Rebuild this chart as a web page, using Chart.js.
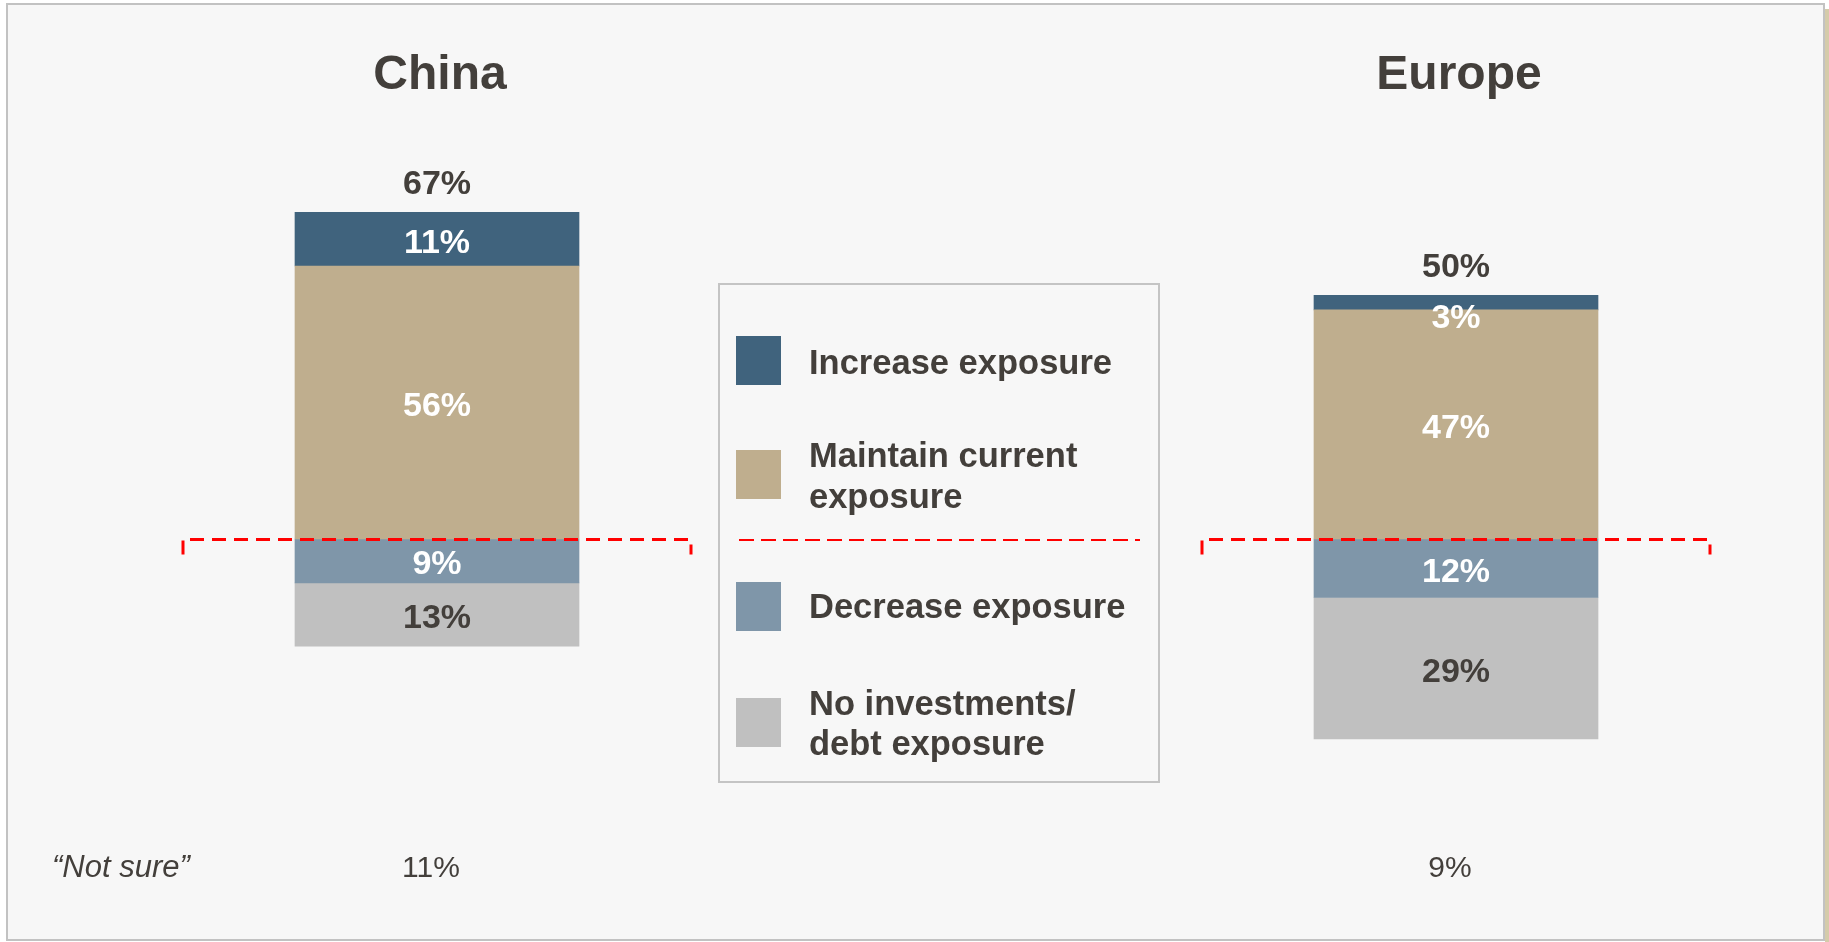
<!DOCTYPE html>
<html>
<head>
<meta charset="utf-8">
<script src="https://cdn.jsdelivr.net/npm/chart.js@4/dist/chart.umd.min.js"></script>
<style>
  html,body{margin:0;padding:0;background:#fff;}
  #wrap{position:relative;width:1829px;height:942px;overflow:hidden;}
  #frame{position:absolute;left:6px;top:3px;width:1815px;height:934px;background:#f7f7f7;border:2px solid #c2c2c2;}
  #strip{position:absolute;left:1825px;top:9px;width:4px;height:933px;background:#d5cbaa;}
  #c{position:absolute;left:0;top:0;}
</style>
</head>
<body>
<div id="wrap">
  <div id="frame"></div>
  <div id="strip"></div>
  <canvas id="c" width="1829" height="942"></canvas>
</div>
<script>
// survey answers, % of respondents
const regions = ['China', 'Europe'];
const increase = [11, 3];
const maintain = [56, 47];
const decrease = [9, 12];
const noInvest = [13, 29];
const notSure = [11, 9];

const seriesNames = ['Increase exposure', 'Maintain current exposure', 'Decrease exposure', 'No investments/ debt exposure'];
const legendLines = [['Increase exposure'], ['Maintain current', 'exposure'], ['Decrease exposure'], ['No investments/', 'debt exposure']];
const colors = ['#40637d', '#bfae8e', '#7f96a9', '#c0c0c0'];

const DARK = '#433f3b';
const FONT = '"Liberation Sans", Arial, Helvetica, sans-serif';

// maintain/increase stack upwards from zero, decrease/no-investment stack downwards
const datasets = [
  { label: seriesNames[1], data: maintain, backgroundColor: colors[1], labelColor: '#fff', shown: maintain },
  { label: seriesNames[0], data: increase, backgroundColor: colors[0], labelColor: '#fff', shown: increase },
  { label: seriesNames[2], data: decrease.map(v => -v), backgroundColor: colors[2], labelColor: '#fff', shown: decrease },
  { label: seriesNames[3], data: noInvest.map(v => -v), backgroundColor: colors[3], labelColor: DARK, shown: noInvest }
];

const decor = {
  id: 'decor',
  afterDatasetsDraw(chart) {
    const ctx = chart.ctx;
    const x = chart.scales.x, y = chart.scales.y;
    const zero = y.getPixelForValue(0) + 0.5;

    // red dashed bracket at the zero line
    ctx.save();
    ctx.strokeStyle = '#ff0000';
    ctx.lineWidth = 3;
    ctx.setLineDash([14, 8]);
    regions.forEach((r, i) => {
      const cx = x.getPixelForValue(i);
      ctx.beginPath();
      ctx.moveTo(cx - 254, zero + 15);
      ctx.lineTo(cx - 254, zero);
      ctx.lineTo(cx + 254, zero);
      ctx.lineTo(cx + 254, zero + 15);
      ctx.stroke();
    });
    ctx.restore();

    // segment values
    ctx.save();
    ctx.font = 'bold 34px ' + FONT;
    ctx.textAlign = 'center';
    ctx.textBaseline = 'middle';
    chart.data.datasets.forEach((ds, di) => {
      chart.getDatasetMeta(di).data.forEach((bar, i) => {
        const top = Math.min(bar.y, bar.base), bot = Math.max(bar.y, bar.base);
        const cy = Math.max((top + bot) / 2, top + 19);
        ctx.fillStyle = ds.labelColor;
        ctx.fillText(ds.shown[i] + '%', bar.x, cy + 4);
      });
    });

    // totals above bars, titles and "not sure" row
    ctx.fillStyle = DARK;
    ctx.textBaseline = 'alphabetic';
    regions.forEach((r, i) => {
      const cx = x.getPixelForValue(i);
      const total = increase[i] + maintain[i];
      ctx.font = 'bold 34px ' + FONT;
      ctx.fillText(total + '%', cx, y.getPixelForValue(total) - 18);
      ctx.font = 'bold 48px ' + FONT;
      ctx.fillText(r, cx + 3, 89);
      ctx.font = '30px ' + FONT;
      ctx.fillText(notSure[i] + '%', cx - 6, 877);
    });
    ctx.textAlign = 'left';
    ctx.font = 'italic 31px ' + FONT;
    ctx.fillText('\u201CNot sure\u201D', 52, 877);

    // legend box
    ctx.strokeStyle = '#c4c4c4';
    ctx.lineWidth = 2;
    ctx.strokeRect(719, 284, 440, 498);
    const rows = [
      { sw: 336, base: [374] },
      { sw: 450, base: [467, 508] },
      { sw: 582, base: [618] },
      { sw: 698, base: [715, 755] }
    ];
    ctx.font = 'bold 34.5px ' + FONT;
    rows.forEach((row, k) => {
      ctx.fillStyle = colors[k];
      ctx.fillRect(736, row.sw, 45, 49);
      ctx.fillStyle = DARK;
      legendLines[k].forEach((t, j) => ctx.fillText(t, 809, row.base[j]));
    });
    ctx.strokeStyle = '#ff0000';
    ctx.lineWidth = 2;
    ctx.setLineDash([15, 7]);
    ctx.beginPath();
    ctx.moveTo(739, 540);
    ctx.lineTo(1140, 540);
    ctx.stroke();
    ctx.restore();
  }
};

new Chart(document.getElementById('c'), {
  type: 'bar',
  data: { labels: regions, datasets: datasets },
  options: {
    responsive: false,
    animation: false,
    layout: { padding: { left: 437, right: 373, top: 149, bottom: 13 } },
    datasets: { bar: { barThickness: 284, borderWidth: 0, clip: false } },
    plugins: { legend: { display: false }, tooltip: { enabled: false } },
    scales: {
      x: { display: false, stacked: true, offset: false, grid: { offset: false } },
      y: { display: false, stacked: true, min: -80, max: 80 }
    }
  },
  plugins: [decor]
});
</script>
</body>
</html>
